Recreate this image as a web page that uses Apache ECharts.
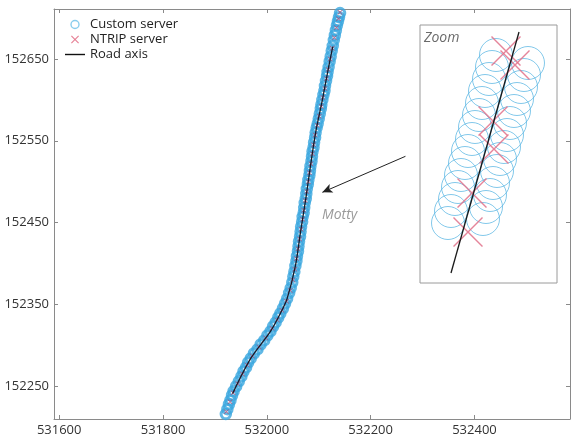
<!DOCTYPE html>
<html>
<head>
<meta charset="utf-8">
<script src="https://cdn.jsdelivr.net/npm/echarts@6/dist/echarts.min.js"></script>
<style>html,body{margin:0;padding:0;background:#fff}#c{width:571px;height:437px}</style>
</head>
<body>
<div id="c"></div>
<script>
var xTicks = [531600, 531800, 532000, 532200, 532400];
var yTicks = [152250, 152350, 152450, 152550, 152650];

var customServer = [
[531921,152216],[531924,152222],[531927,152228],[531930,152233],[531933,152239],[531936,152244],
[531941,152250],[531946,152256],[531951,152262],[531955,152268],[531960,152273],[531964,152279],[531969,152284],
[531975,152290],[531982,152295],[531988,152301],[531995,152306],[532001,152312],[532007,152317],
[532012,152323],[532017,152328],[532022,152334],[532026,152339],
[532031,152345],[532035,152351],[532039,152357],
[532043,152364],[532046,152370],[532049,152377],[532051,152384],[532053,152390],[532055,152397],
[532057,152403],[532058,152409],[532060,152415],[532061,152421],[532062,152427],[532064,152433],[532065,152439],
[532066,152445],[532068,152451],[532069,152457],[532071,152462],[532072,152468],[532073,152474],[532075,152479],
[532076,152485],[532077,152491],[532079,152497],[532080,152502],[532082,152508],[532083,152513],[532084,152519],
[532086,152525],[532087,152531],[532088,152537],[532090,152542],[532091,152548],[532093,152554],[532094,152560],
[532096,152566],[532098,152571],[532100,152577],[532102,152583],[532104,152589],[532105,152594],[532107,152600],
[532109,152606],[532111,152611],[532112,152617],[532114,152623],[532116,152629],[532117,152634],[532119,152640],
[532121,152647],[532123,152653],[532125,152660],[532127,152666],[532129,152673],
[532131,152679],[532133,152685],[532135,152691],[532137,152696],[532139,152701],[532141,152706]
];

var ntripServer = [
[531922,152219],[531929,152231],[531935,152242],[531944,152253],[531953,152265],[531962,152276],[531972,152287],
[531985,152298],[531998,152309],[532010,152321],[532020,152331],[532029,152343],[532038,152354],[532045,152367],
[532050,152380],[532054,152393],[532057,152406],[532060,152418],[532063,152430],[532066,152442],[532069,152454],
[532071,152465],[532074,152477],[532077,152488],[532080,152500],[532082,152511],[532085,152522],[532088,152534],
[532090,152545],[532093,152557],[532097,152569],[532101,152580],[532105,152592],[532108,152603],[532112,152614],
[532115,152626],[532118,152637],[532122,152650],[532126,152663],[532130,152676],[532134,152688],[532138,152699],
[532141,152707]
];

var roadAxis = [
[531934,152241],[531969,152284],[532007,152317],[532026,152339],[532039,152357],[532055,152397],
[532065,152439],[532075,152479],[532084,152519],[532094,152560],[532107,152600],[532119,152640],[532127,152665]
];

var arrowFrom = [532267, 152531];
var arrowTo = [532107, 152487];

// inset "Zoom" panel, local units
var insetCustom = [
[76,30],[72,42],[69,54],[65,66],[62,78],[59,90],[55,102],[52,114],[48,126],[45,138],[41,150],[38,162],[35,174],[31,186],[28,198],
[108,38],[104,50],[101,62],[97,74],[94,86],[90,98],[87,110],[84,122],[80,134],[77,146],[73,158],[70,170],[66,182],[63,194]
];
var insetNtrip = [[86,26],[95,40],[73,96],[74,124],[52,168],[48,207]];
var insetRoad = [[99,7],[31,248]];

var crossSmall = 'path://M0,1L1,0L5,4L9,0L10,1L6,5L10,9L9,10L5,6L1,10L0,9L4,5Z';
var crossBig = 'path://M0,1L1,0L15,14L29,0L30,1L16,15L30,29L29,30L15,16L1,30L0,29L14,15Z';
var lineIcon = 'path://M0,0L20,0L20,1.4L0,1.4Z';

var FONT = 'Open Sans';
var axisGray = '#8a8a8a';
function plain(v) { return String(v); }

var chart = echarts.init(document.getElementById('c'));
chart.setOption({
  animation: false,
  backgroundColor: '#fff',
  textStyle: {fontFamily: FONT},
  grid: [
    {left: 54, top: 9, width: 516, height: 412, show: false},
    {left: 420, top: 25, width: 137, height: 258, show: true, borderColor: '#9a9a9a', borderWidth: 1, backgroundColor: '#fff', z: 5}
  ],
  legend: {
    data: [
      {name: 'Custom server', icon: 'circle', itemStyle: {borderWidth: 1.4, borderColor: '#6cc0e8'}},
      {name: 'NTRIP server', icon: crossSmall, itemStyle: {color: '#e0607a'}},
      {name: 'Road axis', icon: lineIcon, itemStyle: {color: '#111'}}
    ],
    orient: 'vertical', left: 60, top: 13, itemWidth: 20, itemHeight: 8, itemGap: 2,
    textStyle: {fontSize: 13, color: '#222', fontFamily: FONT, lineHeight: 12}
  },
  xAxis: [
    {type: 'value', gridIndex: 0, min: 531590, max: 532584, position: 'bottom',
     axisLine: {show: true, onZero: false, lineStyle: {color: axisGray}},
     axisTick: {show: true, inside: true, length: 4, customValues: xTicks, lineStyle: {color: axisGray}},
     axisLabel: {show: true, customValues: xTicks, formatter: plain, margin: 5, fontSize: 13, color: '#333', fontFamily: FONT},
     splitLine: {show: false}},
    {type: 'value', gridIndex: 0, min: 531590, max: 532584, position: 'top',
     axisLine: {show: true, onZero: false, lineStyle: {color: axisGray}},
     axisTick: {show: true, inside: true, length: 4, customValues: xTicks, lineStyle: {color: axisGray}},
     axisLabel: {show: false}, splitLine: {show: false}},
    {type: 'value', gridIndex: 1, min: 0, max: 137, show: false}
  ],
  yAxis: [
    {type: 'value', gridIndex: 0, min: 152210, max: 152711, position: 'left',
     axisLine: {show: true, onZero: false, lineStyle: {color: axisGray}},
     axisTick: {show: true, inside: true, length: 4, customValues: yTicks, lineStyle: {color: axisGray}},
     axisLabel: {show: true, customValues: yTicks, formatter: plain, margin: 5, fontSize: 13, color: '#333', fontFamily: FONT},
     splitLine: {show: false}},
    {type: 'value', gridIndex: 0, min: 152210, max: 152711, position: 'right',
     axisLine: {show: true, onZero: false, lineStyle: {color: axisGray}},
     axisTick: {show: true, inside: true, length: 4, customValues: yTicks, lineStyle: {color: axisGray}},
     axisLabel: {show: false}, splitLine: {show: false}},
    {type: 'value', gridIndex: 1, min: 0, max: 258, inverse: true, show: false}
  ],
  series: [
    {name: 'Custom server', type: 'scatter', xAxisIndex: 0, yAxisIndex: 0, data: customServer,
     symbol: 'circle', symbolSize: 9.5,
     itemStyle: {color: 'rgba(0,0,0,0)', borderColor: '#3aa6de', borderWidth: 3}, z: 2},
    {name: 'NTRIP server', type: 'scatter', xAxisIndex: 0, yAxisIndex: 0, data: ntripServer,
     symbol: crossSmall, symbolSize: 5,
     itemStyle: {color: '#b8406a'}, z: 3},
    {name: 'Road axis', type: 'line', xAxisIndex: 0, yAxisIndex: 0, data: roadAxis,
     symbol: 'none', smooth: 0.3, lineStyle: {color: '#1a1a2a', width: 1.3}, itemStyle: {color: '#1a1a1a'}, z: 4,
     markLine: {silent: true, symbol: ['none', 'arrow'], symbolSize: [7, 10],
       label: {show: false}, lineStyle: {color: '#222', width: 1, type: 'solid'},
       data: [[{coord: arrowFrom}, {coord: arrowTo}]]}},
    {name: 'inset-custom', type: 'scatter', xAxisIndex: 2, yAxisIndex: 2, data: insetCustom,
     symbol: 'circle', symbolSize: 33, clip: true,
     itemStyle: {color: 'rgba(0,0,0,0)', borderColor: '#52b2e2', borderWidth: 0.9}, z: 6},
    {name: 'inset-ntrip', type: 'scatter', xAxisIndex: 2, yAxisIndex: 2, data: insetNtrip,
     symbol: crossBig, symbolSize: 30,
     itemStyle: {color: '#e07088', opacity: 0.85}, z: 7},
    {name: 'inset-road', type: 'line', xAxisIndex: 2, yAxisIndex: 2, data: insetRoad,
     symbol: 'none', lineStyle: {color: '#1a1a1a', width: 1.3}, z: 8}
  ],
  graphic: [
    {type: 'text', left: 322, top: 208, z: 10,
     style: {text: 'Motty', fontSize: 14, fontStyle: 'italic', fontFamily: FONT, fill: '#9a9a9a'}},
    {type: 'text', left: 424, top: 31, z: 10,
     style: {text: 'Zoom', fontSize: 14, fontStyle: 'italic', fontFamily: FONT, fill: '#6a6a6a'}}
  ]
});
</script>
</body>
</html>
